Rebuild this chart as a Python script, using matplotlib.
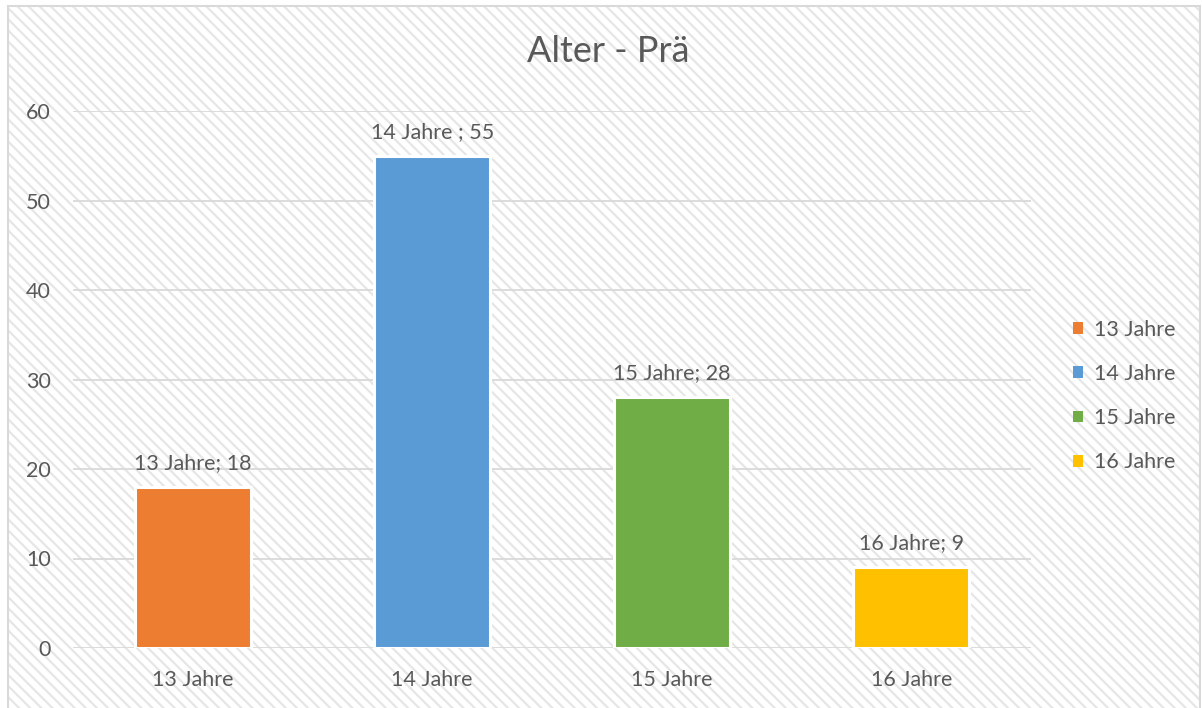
#!/usr/bin/env python3

import matplotlib.pyplot as plt
from matplotlib.patches import Rectangle, Patch

# ─── DATA ────────────────────────────────────────────────────────────────
categories = ["13 Jahre", "14 Jahre", "15 Jahre", "16 Jahre"]
values = [18, 55, 28, 9]
bar_labels = ["13 Jahre; 18", "14 Jahre ; 55", "15 Jahre; 28", "16 Jahre; 9"]
colors = ["#ED7D31", "#5B9BD5", "#70AD47", "#FFC000"]
yticks = [0, 10, 20, 30, 40, 50, 60]
title = "Alter - Prä"

TEXT = "#595959"
GRID = "#d9d9d9"

plt.rcParams.update({
    "font.family": ["Lato", "DejaVu Sans"],
    "hatch.linewidth": 1.6,
})

W, H = 1202, 708
fig = plt.figure(figsize=(W / 100, H / 100), dpi=100)

# hatched chart background + border
bg = Rectangle((8 / W, 0), 1192 / W, 702 / H, transform=fig.transFigure,
               facecolor="white", edgecolor="#e6e6e6", linewidth=0,
               hatch="\\\\\\", zorder=-10)
fig.patches.append(bg)
border = Rectangle((8 / W, -0.01), 1192 / W, 1 - 6 / H + 0.01,
                   transform=fig.transFigure, fill=False,
                   edgecolor=GRID, linewidth=1.5, zorder=-9)
fig.patches.append(border)

left, right = 73 / W, 1031 / W
bottom, top = 1 - 648 / H, 1 - 111 / H
ax = fig.add_axes([left, bottom, right - left, top - bottom])
ax.patch.set_alpha(0)

x = range(len(categories))
bars = ax.bar(x, values, width=0.485, color=colors, edgecolor="white",
              linewidth=2.2, zorder=3)

for b, lab in zip(bars, bar_labels):
    ax.annotate(lab, (b.get_x() + b.get_width() / 2, b.get_height()),
                xytext=(0, 14), textcoords="offset pixels",
                ha="center", va="bottom", fontsize=15.5, color=TEXT)

ax.set_xlim(-0.5, len(categories) - 0.5)
ax.set_ylim(0, 60)
ax.set_yticks(yticks)
ax.set_xticks(list(x))
ax.set_xticklabels(categories)
ax.tick_params(axis="both", length=0, labelsize=15.5, labelcolor=TEXT)
ax.tick_params(axis="y", pad=16)
ax.tick_params(axis="x", pad=16)
ax.grid(axis="y", color=GRID, linewidth=1.3, zorder=1)
ax.set_axisbelow(True)
for s in ax.spines.values():
    s.set_visible(False)

fig.text(608 / W, 1 - 52 / H, title, ha="center", va="center",
         fontsize=26, color=TEXT)

handles = [Patch(facecolor=c, edgecolor="none") for c in colors]
fig.legend(handles, categories, loc="center left",
           bbox_to_anchor=(1054 / W, 1 - 396 / H), frameon=False,
           fontsize=15.5, labelcolor=TEXT, handlelength=0.45, handleheight=0.45,
           handletextpad=0.5, labelspacing=1.13)

fig.savefig("out.png", dpi=100)
